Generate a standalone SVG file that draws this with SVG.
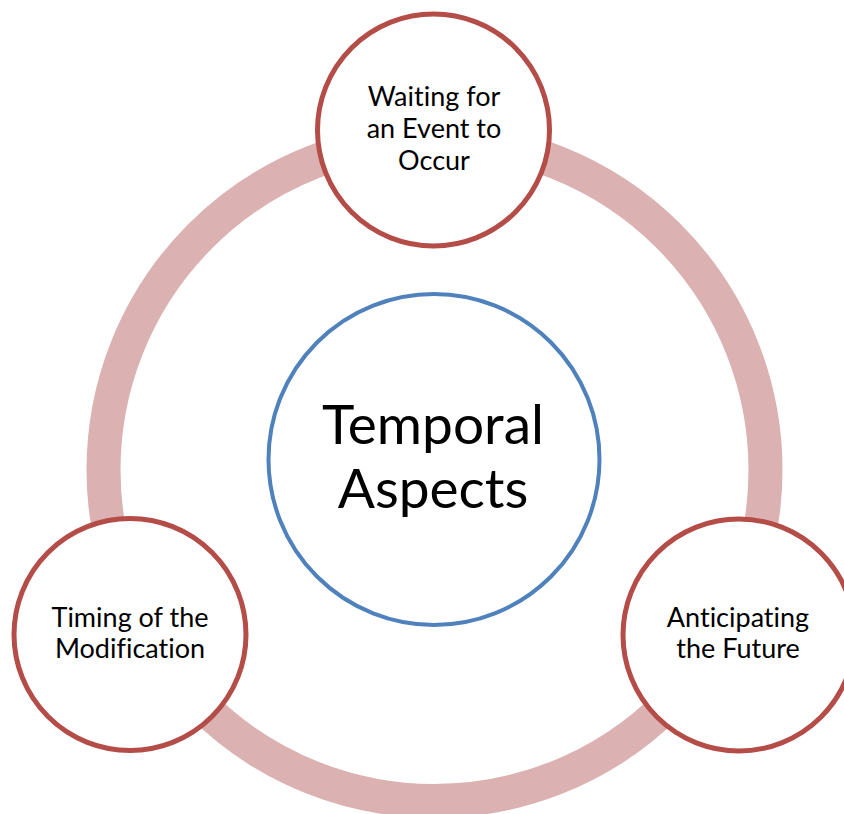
<svg xmlns="http://www.w3.org/2000/svg" width="844" height="814" viewBox="0 0 844 814">
  <style>
    .ring { fill: none; stroke: #dbb1b1; stroke-width: 34; }
    .node { fill: #ffffff; stroke: #b44c48; stroke-width: 5; }
    .hub { fill: #ffffff; stroke: #4f81bd; stroke-width: 4; }
    .lbl, .hub-lbl { font-family: Lato, "Open Sans", "Liberation Sans", sans-serif; fill: #000000; text-anchor: middle; font-variant-ligatures: none; font-feature-settings: "liga" 0, "clig" 0; }
    .lbl { font-size: 27px; }
    .hub-lbl { font-size: 55px; }
  </style>
  <rect width="844" height="814" fill="#ffffff"/>

  <!-- cycle ring linking the three outer nodes -->
  <g id="connectors">
    <circle class="ring" cx="434.5" cy="470" r="331"/>
  </g>

  <!-- central hub -->
  <g id="node-temporal-aspects">
    <circle class="hub" cx="434" cy="459.5" r="165.5"/>
    <text class="hub-lbl" x="433" y="444">Temporal</text>
    <text class="hub-lbl" x="433" y="508">Aspects</text>
  </g>

  <!-- outer nodes -->
  <g id="node-waiting">
    <circle class="node" cx="433.5" cy="130" r="116"/>
    <text class="lbl" x="434" y="106">Waiting for</text>
    <text class="lbl" x="434" y="138">an Event to</text>
    <text class="lbl" x="434" y="170">Occur</text>
  </g>

  <g id="node-timing">
    <circle class="node" cx="130" cy="634.5" r="116"/>
    <text class="lbl" x="130" y="627">Timing of the</text>
    <text class="lbl" x="130" y="658">Modification</text>
  </g>

  <g id="node-anticipating">
    <circle class="node" cx="739" cy="635" r="116"/>
    <text class="lbl" x="738" y="627">Anticipating</text>
    <text class="lbl" x="738" y="658">the Future</text>
  </g>
</svg>
